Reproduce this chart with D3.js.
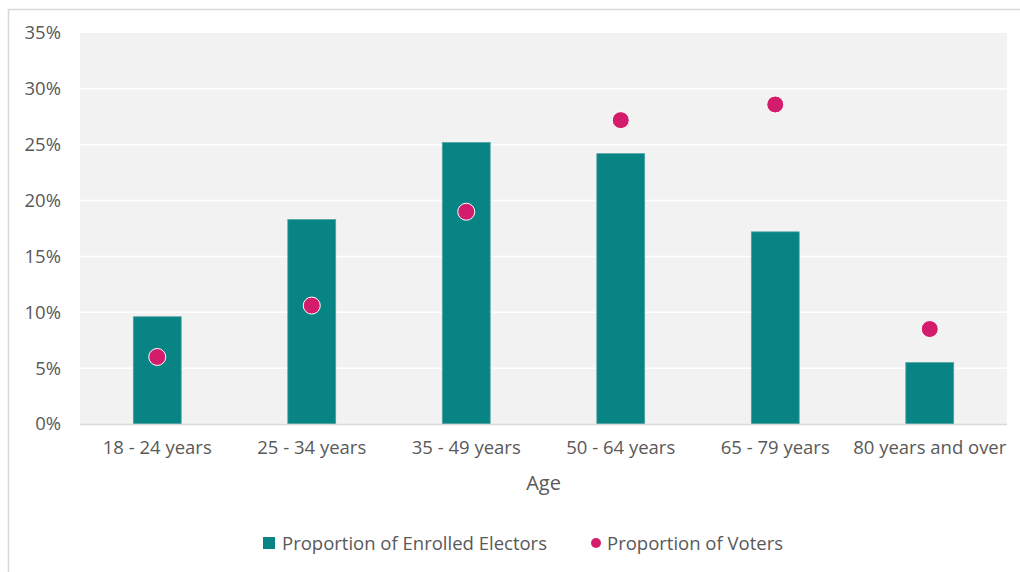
<!DOCTYPE html>
<html>
<head>
<meta charset="utf-8">
<script src="https://cdn.jsdelivr.net/npm/d3@7"></script>
<style>
  html, body { margin: 0; padding: 0; background: #ffffff; }
  svg { display: block; }
  text { font-family: "Open Sans", "Liberation Sans", Arial, sans-serif; fill: #595959; }
</style>
</head>
<body>
<svg id="chart" width="1020" height="572"></svg>
<script>
// Age groups and the share of each group among enrolled electors and voters (%)
const ageGroups = ["18 - 24 years", "25 - 34 years", "35 - 49 years", "50 - 64 years", "65 - 79 years", "80 years and over"];
const enrolledElectors = [9.6, 18.3, 25.2, 24.2, 17.2, 5.5];
const voters = [6.0, 10.6, 19.0, 27.2, 28.6, 8.5];
const yTicks = [0, 5, 10, 15, 20, 25, 30, 35];

const seriesNames = ["Proportion of Enrolled Electors", "Proportion of Voters"];
const barColor = "#088484";
const dotColor = "#d41c6c";
const fontFamily = "Open Sans, Liberation Sans, Arial, sans-serif";
const labelSize = 18.5;

const svg = d3.select("#chart");

// Outer chart frame (top and left edges visible)
svg.append("path")
  .attr("d", "M8.5,572 L8.5,9.5 L1020,9.5")
  .attr("fill", "none")
  .attr("stroke", "#d9d9d9")
  .attr("stroke-width", 1.5);

const plot = { left: 80, right: 1007, top: 33, bottom: 424 };

const x = d3.scaleBand()
  .domain(ageGroups)
  .range([plot.left, plot.right])
  .paddingInner(0.69)
  .paddingOuter(0.345);

const y = d3.scaleLinear()
  .domain([0, 35])
  .range([plot.bottom, plot.top]);

// Plot area background
svg.append("rect")
  .attr("x", plot.left)
  .attr("y", plot.top)
  .attr("width", plot.right - plot.left)
  .attr("height", plot.bottom - plot.top)
  .attr("fill", "#f2f2f2");

// Horizontal gridlines
svg.append("g")
  .selectAll("line")
  .data(yTicks.filter(t => t > 0 && t < 35))
  .join("line")
  .attr("x1", plot.left)
  .attr("x2", plot.right)
  .attr("y1", d => y(d))
  .attr("y2", d => y(d))
  .attr("stroke", "#ffffff")
  .attr("stroke-width", 1.5);

// Y axis labels
const yAxis = d3.axisLeft(y)
  .tickValues(yTicks)
  .tickFormat(d => d + "%")
  .tickSize(0)
  .tickPadding(19);

svg.append("g")
  .attr("transform", `translate(${plot.left},0)`)
  .call(yAxis)
  .call(g => g.select(".domain").remove())
  .call(g => g.selectAll("text")
    .attr("font-size", labelSize)
    .attr("font-family", fontFamily)
    .attr("fill", "#595959"));

// Bars: enrolled electors
const centerX = d => x(d) + x.bandwidth() / 2;

svg.append("g")
  .selectAll("rect")
  .data(ageGroups.map((g, i) => ({ group: g, value: enrolledElectors[i] })))
  .join("rect")
  .attr("x", d => x(d.group))
  .attr("y", d => y(d.value))
  .attr("width", x.bandwidth())
  .attr("height", d => y(0) - y(d.value))
  .attr("fill", barColor)
  .attr("stroke", "#4fa3a3")
  .attr("stroke-width", 0.75);

// Baseline
svg.append("line")
  .attr("x1", plot.left)
  .attr("x2", plot.right)
  .attr("y1", y(0) + 0.5)
  .attr("y2", y(0) + 0.5)
  .attr("stroke", "#d9d9d9")
  .attr("stroke-width", 1.5);

// Markers: voters
svg.append("g")
  .selectAll("circle")
  .data(ageGroups.map((g, i) => ({ group: g, value: voters[i] })))
  .join("circle")
  .attr("cx", d => centerX(d.group))
  .attr("cy", d => y(d.value))
  .attr("r", 8.5)
  .attr("fill", dotColor)
  .attr("stroke", "#ffffff")
  .attr("stroke-width", 1);

// X axis labels
const xAxis = d3.axisBottom(x).tickSize(0).tickPadding(17);
svg.append("g")
  .attr("transform", `translate(0,${plot.bottom})`)
  .call(xAxis)
  .call(g => g.select(".domain").remove())
  .call(g => g.selectAll("text")
    .attr("font-size", labelSize)
    .attr("font-family", fontFamily)
    .attr("fill", "#595959"));

// X axis title
svg.append("text")
  .attr("x", (plot.left + plot.right) / 2)
  .attr("y", 490)
  .attr("text-anchor", "middle")
  .attr("font-size", 20)
  .text("Age");

// Legend
const legend = svg.append("g").attr("transform", "translate(0,543)");
legend.append("rect")
  .attr("x", 263).attr("y", -6)
  .attr("width", 12).attr("height", 12)
  .attr("fill", barColor);
legend.append("text")
  .attr("x", 282).attr("y", 6.5)
  .attr("font-size", labelSize)
  .text(seriesNames[0]);
legend.append("circle")
  .attr("cx", 596).attr("cy", 0)
  .attr("r", 5)
  .attr("fill", dotColor);
legend.append("text")
  .attr("x", 607).attr("y", 6.5)
  .attr("font-size", labelSize)
  .text(seriesNames[1]);
</script>
</body>
</html>
